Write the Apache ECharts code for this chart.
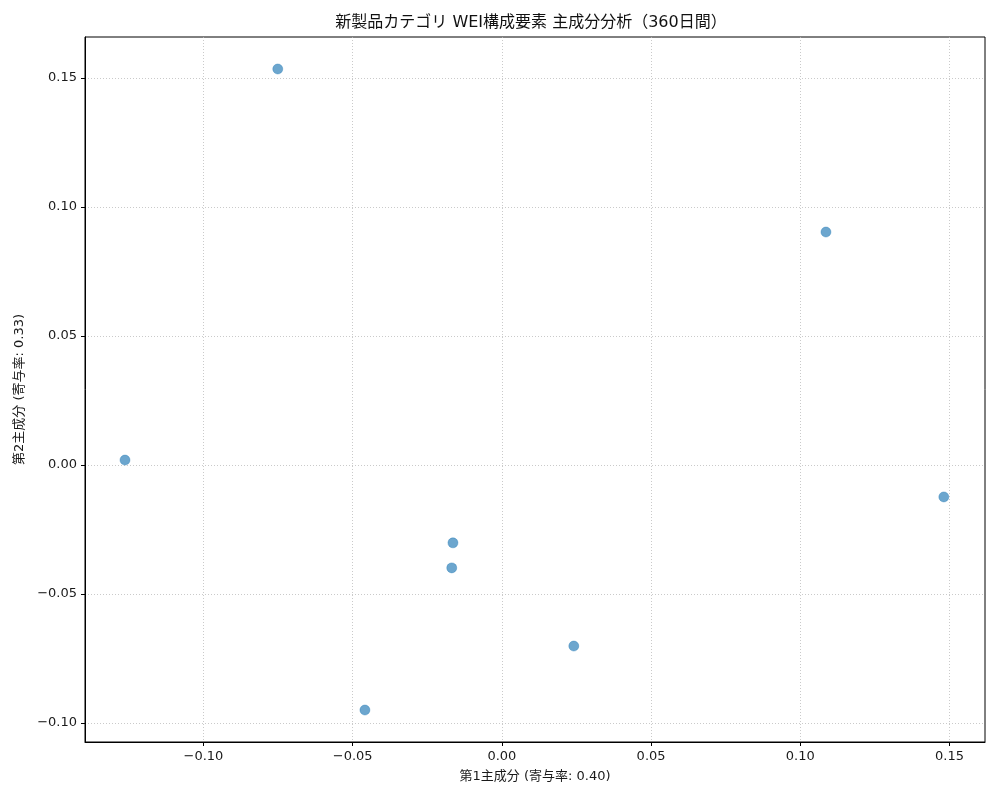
<!DOCTYPE html>
<html><head><meta charset="utf-8">
<script src="https://cdn.jsdelivr.net/npm/echarts@6/dist/echarts.min.js"></script>
<style>html,body{margin:0;padding:0;background:#fff}#c{width:1000px;height:800px}</style>
</head><body><div id="c"></div>
<script>
const pc1 = [-0.0751, 0.1086, -0.1263, 0.1481, -0.0164, -0.0168, 0.0241, -0.0459];
const pc2 = [0.1535, 0.0903, 0.0019, -0.0124, -0.0302, -0.0399, -0.0702, -0.0950];
const xTicks = [-0.10, -0.05, 0.00, 0.05, 0.10, 0.15];
const yTicks = [-0.10, -0.05, 0.00, 0.05, 0.10, 0.15];
const titleText = '新製品カテゴリ WEI構成要素 主成分分析（360日間）';
const xName = '第1主成分 (寄与率: 0.40)';
const yName = '第2主成分 (寄与率: 0.33)';

const FONT = '"DejaVu Sans", "Noto Sans CJK JP", sans-serif';
const fmt = v => { const s = Math.abs(v).toFixed(2); return (v < -1e-9 ? '\u2212' : '') + s; };
const pts = pc1.map((x, i) => [x, pc2[i]]);

const axisCommon = {
  axisLine: { show: true, onZero: false, lineStyle: { color: '#000', width: 1 } },
  axisTick: { show: true, inside: false, length: 4, lineStyle: { color: '#000' } },
  axisLabel: { color: '#1a1a1a', fontSize: 13, fontFamily: FONT, formatter: fmt },
  splitLine: { show: true, lineStyle: { color: '#bdbdbd', type: [1, 2], width: 0.8 } },
  nameLocation: 'middle',
  nameTextStyle: { color: '#1a1a1a', fontSize: 13, fontFamily: FONT }
};

const chart = echarts.init(document.getElementById('c'), null, { renderer: 'canvas' });
chart.setOption({
  animation: false,
  backgroundColor: '#fff',
  graphic: [{
    type: 'text', x: 531, y: 23,
    style: { text: titleText, fill: '#111', font: '16px ' + FONT, textAlign: 'center', textVerticalAlign: 'middle' }
  }],
  grid: { left: 85, right: 15, top: 37, bottom: 58, show: true, borderColor: '#000', borderWidth: 1, containLabel: false },
  xAxis: Object.assign({}, axisCommon, {
    type: 'value', min: -0.1397, max: 0.1619, name: xName, nameGap: 28,
    axisTick: Object.assign({}, axisCommon.axisTick, { customValues: xTicks }),
    axisLabel: Object.assign({}, axisCommon.axisLabel, { customValues: xTicks, margin: 8 })
  }),
  yAxis: Object.assign({}, axisCommon, {
    type: 'value', min: -0.1074, max: 0.1659, name: yName, nameGap: 58,
    axisTick: Object.assign({}, axisCommon.axisTick, { customValues: yTicks }),
    axisLabel: Object.assign({}, axisCommon.axisLabel, { customValues: yTicks, margin: 8 })
  }),
  series: [{
    type: 'scatter', data: pts, symbolSize: 10,
    itemStyle: { color: 'rgba(31,119,180,0.82)', borderColor: 'rgba(31,119,180,0.9)', borderWidth: 0.5 }
  }]
});
</script></body></html>
